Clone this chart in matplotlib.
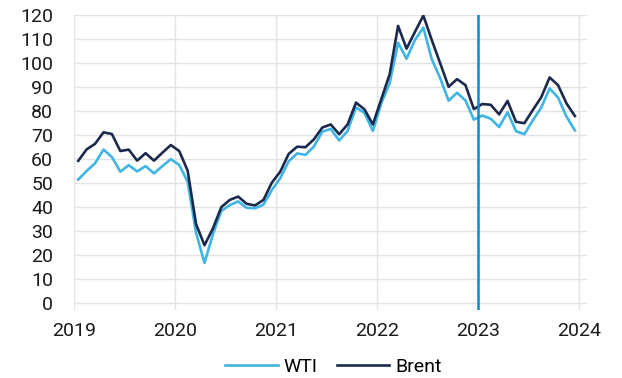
import numpy as np
import matplotlib.pyplot as plt
from matplotlib import font_manager

# narrow face if we have one, else a plain sans
names = {f.name for f in font_manager.fontManager.ttflist}
face = 'Liberation Sans Narrow' if 'Liberation Sans Narrow' in names else 'Roboto'
plt.rcParams['font.family'] = [face, 'DejaVu Sans']

# monthly averages, Jan 2019 .. Dec 2023
wti = [51.4, 55.0, 58.2, 63.9, 60.8, 54.7, 57.4, 54.8, 57.0, 54.0, 57.0, 59.9,
       57.5, 50.5, 29.2, 16.6, 28.6, 38.3, 40.7, 42.3, 39.6, 39.4, 40.9, 47.0,
       52.0, 59.0, 62.3, 61.7, 65.2, 71.4, 72.5, 67.7, 71.7, 81.5, 79.2, 71.7,
       83.2, 91.6, 108.5, 101.8, 109.6, 114.8, 101.6, 93.7, 84.3, 87.6, 84.4, 76.4,
       78.1, 76.8, 73.3, 79.5, 71.6, 70.3, 76.1, 81.4, 89.4, 85.6, 77.7, 71.9]
brent = [59.2, 64.0, 66.3, 71.1, 70.4, 63.3, 63.9, 59.3, 62.4, 59.3, 62.6, 65.8,
         63.3, 55.1, 32.8, 24.0, 31.0, 39.9, 42.9, 44.3, 41.3, 40.6, 42.9, 50.1,
         54.7, 62.1, 65.1, 64.9, 68.2, 73.1, 74.4, 70.3, 74.4, 83.5, 80.7, 74.4,
         84.9, 95.4, 115.5, 106.0, 113.0, 119.8, 109.6, 99.9, 90.1, 93.3, 90.8, 80.8,
         82.9, 82.6, 78.6, 84.2, 75.5, 74.9, 80.4, 85.7, 94.0, 90.8, 83.2, 77.9]
years = [2019, 2020, 2021, 2022, 2023, 2024]
marker_year = 2023

# mid-month positions in fractional years
x = 2019 + (np.arange(len(wti)) + 0.5) / 12

fig = plt.figure(figsize=(6.22, 3.78), dpi=100)
ax = fig.add_axes([0.119, 0.18, 0.825, 0.78])

ax.plot(x, wti, color='#3fb5e5', lw=1.9, label='WTI', zorder=3)
ax.plot(x, brent, color='#1b2a4c', lw=1.9, label='Brent', zorder=3)
ax.axvline(marker_year, color='#1687c6', lw=1.8, zorder=4)

ax.set_xlim(2019, 2024.08)
ax.set_ylim(-3, 120)
ax.set_xticks(years)
ax.set_yticks(np.arange(0, 121, 10))
ax.grid(True, color='#e3e3e3', lw=1.0)
ax.set_axisbelow(True)
for s in ax.spines.values():
    s.set_visible(False)
ax.tick_params(length=0, labelsize=14, colors='#1a1a1a')
ax.tick_params(axis='y', pad=15)
ax.tick_params(axis='x', pad=9)

fig.legend(loc='center', bbox_to_anchor=(0.536, 0.03), ncol=2, frameon=False,
           fontsize=14, handlelength=2.7, handletextpad=0.3, columnspacing=1.0)

plt.savefig('out.png', dpi=100)
plt.close()
